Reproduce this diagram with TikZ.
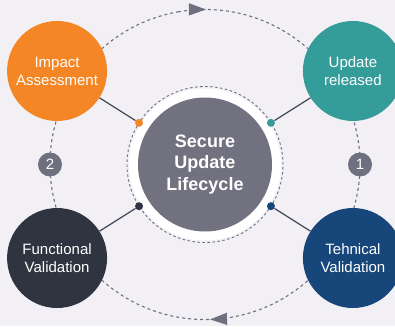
\documentclass[tikz,border=0pt]{standalone}
\usepackage{fontspec}
\setmainfont{Liberation Sans}
\usetikzlibrary{arrows.meta,decorations.markings}

\definecolor{bgpaper}{HTML}{F2F0F5}
\definecolor{impactorange}{HTML}{F48625}
\definecolor{releaseteal}{HTML}{359D99}
\definecolor{technavy}{HTML}{17467A}
\definecolor{funcdark}{HTML}{2E3440}
\definecolor{coregray}{HTML}{717180}
\definecolor{ringgray}{HTML}{6E7080}
\definecolor{linkgray}{HTML}{3E4656}

\begin{document}
\begin{tikzpicture}[x=1pt,y=1pt]
    \newcommand{\ringrad}{155}  % radius of the outer cycle
    \newcommand{\jointrad}{78}  % radius of the dashed ring round the core
    \newcommand{\ang}{32.3}     % angle of the stages off the horizontal
    \newcommand{\stagedist}{175}

    % set the styles of the parts
    \tikzset{
        stage/.style={
            circle,
            minimum size=100pt,
            inner sep=0pt,
            text=white,
            align=center,
            font=\fontsize{15}{18}\selectfont
            },
        joint/.style={circle, minimum size=8pt, inner sep=0pt},
        badge/.style={
            circle,
            fill=ringgray,
            minimum size=24pt,
            inner sep=0pt,
            text=white,
            font=\fontsize{15}{15}\selectfont
            },
        link/.style={draw=linkgray, line width=1.2pt},
        cycle/.style={
            draw=ringgray,
            line width=1.1pt,
            dash pattern=on 3pt off 3pt
            },
        halo/.style={
            draw=ringgray,
            line width=0.9pt,
            dash pattern=on 2.5pt off 2.5pt
            }
    }

    % paper
    \fill[bgpaper] (-205,-161.5) rectangle (190,164.5);
    \useasboundingbox (-205,-161.5) rectangle (190,164.5);
    \clip (-205,-161.5) rectangle (190,164.5);

    % outer cycle, clockwise, with its two arrows
    \draw[cycle, postaction={decorate}, decoration={markings,
        mark=at position 28pt with {\arrow{Triangle[length=17pt,width=12pt]}},
        mark=at position 509pt with {\arrow{Triangle[length=17pt,width=12pt]}}}]
        (100:\ringrad) arc[start angle=100, end angle=-260, radius=\ringrad];

    % step numbers
    \node[badge] (one) at (0:\ringrad) {1};
    \node[badge] (two) at (180:\ringrad) {2};

    % stages
    \node[stage, fill=impactorange] (impact) at (180-\ang:\stagedist) {Impact\\Assessment};
    \node[stage, fill=releaseteal] (release) at (\ang:\stagedist) {Update\\released};
    \node[stage, fill=technavy] (tech) at (-\ang:\stagedist) {Tehnical\\Validation};
    \node[stage, fill=funcdark] (func) at (180+\ang:\stagedist) {Functional\\Validation};

    % core
    \node[circle, fill=white, minimum size=152pt, inner sep=0pt] (glow) at (0,0) {};
    \node[circle, halo, minimum size=156pt, inner sep=0pt] (ring) at (0,0) {};
    \node[circle, fill=coregray, minimum size=134pt, inner sep=0pt, text=white, align=center,
        font=\bfseries\fontsize{18}{21.5}\selectfont] (core) at (0,0) {Secure\\Update\\Lifecycle};

    % joints on the ring
    \node[joint, fill=impactorange] (jimpact) at (180-\ang:\jointrad) {};
    \node[joint, fill=releaseteal] (jrelease) at (\ang:\jointrad) {};
    \node[joint, fill=technavy] (jtech) at (-\ang:\jointrad) {};
    \node[joint, fill=funcdark] (jfunc) at (180+\ang:\jointrad) {};

    % links
    \draw[link] (jimpact) -- (impact);
    \draw[link] (jrelease) -- (release);
    \draw[link] (jtech) -- (tech);
    \draw[link] (jfunc) -- (func);
\end{tikzpicture}
\end{document}
